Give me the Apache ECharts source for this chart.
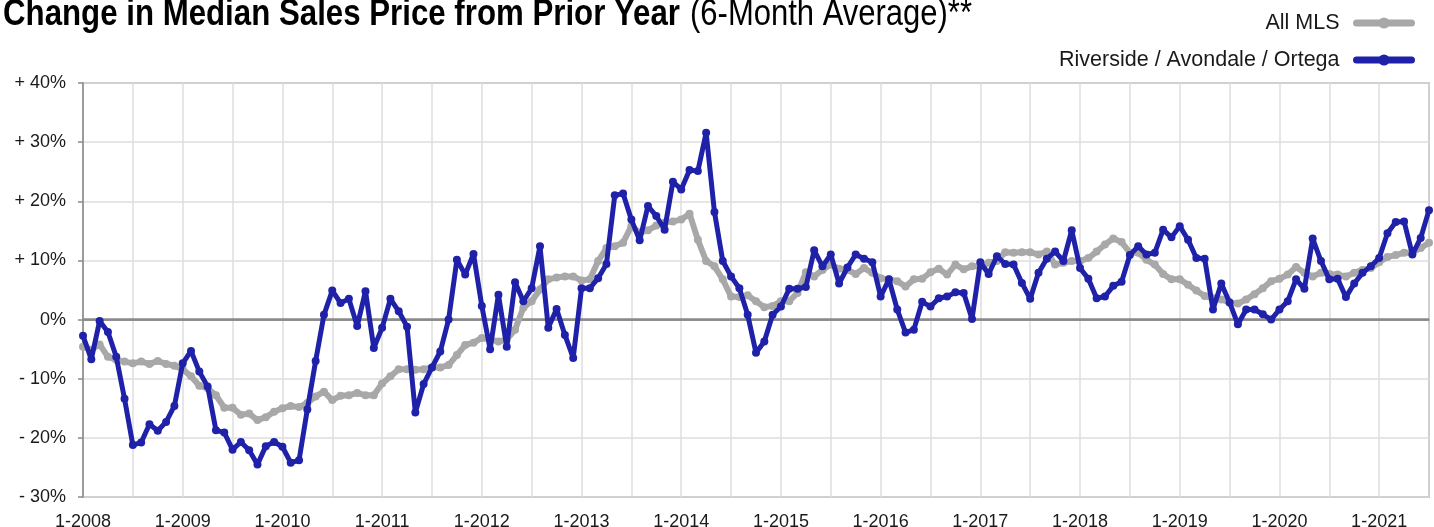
<!DOCTYPE html>
<html>
<head>
<meta charset="utf-8">
<title>Change in Median Sales Price from Prior Year</title>
<script src="https://cdn.jsdelivr.net/npm/echarts@6/dist/echarts.min.js"></script>
<style>
  html, body { margin: 0; padding: 0; background: #ffffff; }
  #chart { width: 1434px; height: 527px; }
</style>
</head>
<body>
<div id="chart"></div>
<script>
// Monthly series, January 2008 through July 2021 (percent change, 6-month average)
const startYear = 2008;
const monthCount = 163;

// All MLS
const allMls = [
  -4.6, -5.1, -4.2, -6.3, -6.8, -7.1, -7.4, -7.1, -7.5, -7.0, -7.5, -7.8,
  -8.4, -9.6, -11.2, -11.6, -12.8, -14.9, -14.9, -16.1, -15.9, -17.0, -16.5, -15.6,
  -15.0, -14.6, -14.8, -14.1, -13.0, -12.2, -13.6, -12.9, -12.8, -12.4, -12.8, -12.8,
  -10.8, -9.6, -8.4, -8.4, -8.5, -8.4, -8.1, -8.1, -7.7, -6.0, -4.3, -3.9,
  -3.1, -3.4, -3.7, -3.4, -1.7, 2.0, 3.1, 5.1, 6.8, 7.1, 7.3, 7.3,
  6.6, 6.8, 9.9, 12.1, 12.4, 13.0, 15.8, 14.7, 15.1, 15.9, 16.4, 16.6,
  16.9, 17.9, 13.5, 9.9, 9.0, 6.8, 3.9, 3.8, 4.1, 3.1, 2.1, 2.3,
  3.1, 3.1, 4.5, 8.0, 7.3, 8.4, 9.3, 8.6, 8.4, 7.7, 8.7, 7.9,
  7.0, 6.8, 6.5, 5.6, 6.8, 6.9, 8.0, 8.6, 7.6, 9.3, 8.5, 9.0,
  9.0, 9.6, 9.9, 11.4, 11.3, 11.4, 11.4, 11.0, 11.5, 9.3, 9.6, 9.9,
  9.9, 10.4, 11.5, 12.7, 13.7, 13.1, 11.3, 11.3, 10.1, 9.3, 7.7, 6.8,
  6.8, 5.9, 4.9, 4.0, 3.6, 3.4, 2.9, 2.7, 3.4, 4.3, 5.3, 6.5,
  6.9, 7.6, 8.9, 7.9, 7.3, 7.9, 7.7, 7.6, 7.3, 7.9, 8.4, 8.7,
  9.7, 10.6, 10.9, 11.3, 11.3, 12.1, 13.0
];

// Riverside / Avondale / Ortega
const riverside = [
  -2.75, -6.7, -0.25, -2.1, -6.3, -13.4, -21.2, -20.8, -17.7, -18.8, -17.3, -14.6,
  -7.4, -5.3, -8.8, -11.3, -18.7, -19.1, -22.0, -20.7, -22.1, -24.5, -21.4, -20.7,
  -21.5, -24.2, -23.8, -15.2, -7.0, 0.8, 4.9, 2.8, 3.5, -1.1, 4.8, -4.8,
  -1.4, 3.5, 1.4, -1.2, -15.7, -10.9, -8.1, -5.4, 0.0, 10.1, 7.6, 11.1,
  2.3, -5.0, 4.2, -4.6, 6.3, 3.1, 5.3, 12.4, -1.4, 1.8, -2.6, -6.5,
  5.3, 5.3, 7.0, 9.4, 21.0, 21.3, 16.9, 13.4, 19.2, 17.5, 15.2, 23.3,
  22.0, 25.3, 25.1, 31.6, 18.2, 9.9, 7.3, 5.3, 0.8, -5.6, -3.7, 0.8,
  2.2, 5.2, 5.2, 5.5, 11.7, 9.0, 11.0, 6.1, 8.8, 11.0, 10.3, 9.7,
  3.9, 6.8, 1.7, -2.2, -1.7, 3.0, 2.2, 3.6, 3.9, 4.6, 4.5, 0.1,
  9.7, 7.7, 10.7, 9.4, 9.3, 6.2, 3.5, 7.9, 10.3, 11.5, 9.9, 15.1,
  8.7, 6.9, 3.6, 3.9, 5.7, 6.4, 10.9, 12.4, 11.0, 11.3, 15.2, 13.9,
  15.8, 13.5, 10.4, 10.3, 1.7, 6.1, 2.9, -0.8, 1.7, 1.7, 0.9, 0.0,
  1.7, 3.1, 6.8, 5.2, 13.7, 9.9, 6.8, 6.9, 3.8, 6.1, 7.9, 9.0,
  10.4, 14.6, 16.5, 16.6, 11.0, 13.8, 18.5
];

// Month labels "M-YYYY"
const months = [];
for (let i = 0; i < monthCount; i++) {
  months.push((i % 12 + 1) + '-' + (startYear + Math.floor(i / 12)));
}

const yTicks = { min: -30, max: 40, step: 10 };

const titleMain = 'Change in Median Sales Price from Prior Year';
const titleSub = '(6-Month Average)**';

const BLUE = '#1f22a9';
const GRAY = '#a8a8a8';
const FRAME = '#8a8a8a';
const GRID = '#dedede';
const FONT = '"Liberation Sans", Arial, Helvetica, sans-serif';

// Condensed heading: system sans drawn with a horizontal squeeze
const TITLE_BOLD = 'bold 36px "Liberation Sans", Arial, sans-serif';
const TITLE_REG = '36px "Liberation Sans", Arial, sans-serif';
function textWidth(font, str) {
  const ctx = document.createElement('canvas').getContext('2d');
  ctx.font = font;
  return ctx.measureText(str).width;
}
const mainScale = 677 / textWidth(TITLE_BOLD, titleMain);
const subScale = 282 / textWidth(TITLE_REG, titleSub);

const chart = echarts.init(document.getElementById('chart'), null, { renderer: 'canvas' });

chart.setOption({
  animation: false,
  backgroundColor: '#ffffff',
  graphic: [
    {
      type: 'text',
      x: 3,
      y: 15,
      scaleX: mainScale,
      style: { text: titleMain, font: TITLE_BOLD, fill: '#000', verticalAlign: 'middle', align: 'left' }
    },
    {
      type: 'text',
      x: 690,
      y: 15,
      scaleX: subScale,
      style: { text: titleSub, font: TITLE_REG, fill: '#000', verticalAlign: 'middle', align: 'left' }
    }
  ],
  legend: {
    orient: 'vertical',
    right: 19,
    top: 12,
    padding: 0,
    align: 'right',
    itemWidth: 55,
    itemHeight: 14,
    itemGap: 15,
    lineStyle: { width: 7, cap: 'round' },
    textStyle: { fontFamily: FONT, fontSize: 21.5, color: '#1a1a1a', padding: [0, 12, 0, 0] },
    data: ['All MLS', 'Riverside / Avondale / Ortega']
  },
  grid: {
    left: 83, right: 5, top: 83, bottom: 30,
    outerBoundsMode: 'none',
    show: true, borderColor: FRAME, borderWidth: 1.5
  },
  xAxis: {
    type: 'category',
    data: months,
    boundaryGap: false,
    axisLine: { lineStyle: { color: FRAME, width: 1.5 } },
    axisTick: { show: false },
    axisLabel: {
      interval: (idx) => idx % 12 === 0,
      margin: 16,
      fontFamily: FONT,
      fontSize: 18,
      color: '#1a1a1a'
    },
    splitLine: {
      show: true,
      interval: (idx) => idx % 6 === 0,
      lineStyle: { color: GRID, width: 1.5 }
    }
  },
  yAxis: {
    type: 'value',
    min: yTicks.min,
    max: yTicks.max,
    interval: yTicks.step,
    axisLine: { show: true, lineStyle: { color: FRAME, width: 1.5 } },
    axisTick: { show: true, length: 5, lineStyle: { color: FRAME, width: 1.5 } },
    axisLabel: {
      margin: 17,
      fontFamily: FONT,
      fontSize: 18,
      color: '#1a1a1a',
      formatter: (v) => v > 0 ? '+ ' + v + '%' : (v < 0 ? '- ' + Math.abs(v) + '%' : '0%')
    },
    splitLine: { show: true, lineStyle: { color: GRID, width: 1.5 } }
  },
  series: [
    {
      name: 'All MLS',
      type: 'line',
      data: allMls,
      symbol: 'circle',
      symbolSize: 8,
      showAllSymbol: true,
      lineStyle: { color: GRAY, width: 6 },
      itemStyle: { color: GRAY },
      z: 2,
      markLine: {
        silent: true,
        symbol: 'none',
        label: { show: false },
        lineStyle: { color: FRAME, width: 2.5, type: 'solid' },
        data: [{ yAxis: 0 }],
        z: 1
      }
    },
    {
      name: 'Riverside / Avondale / Ortega',
      type: 'line',
      data: riverside,
      symbol: 'circle',
      symbolSize: 8,
      showAllSymbol: true,
      lineStyle: { color: BLUE, width: 5 },
      itemStyle: { color: BLUE },
      z: 3
    }
  ]
});
</script>
</body>
</html>
